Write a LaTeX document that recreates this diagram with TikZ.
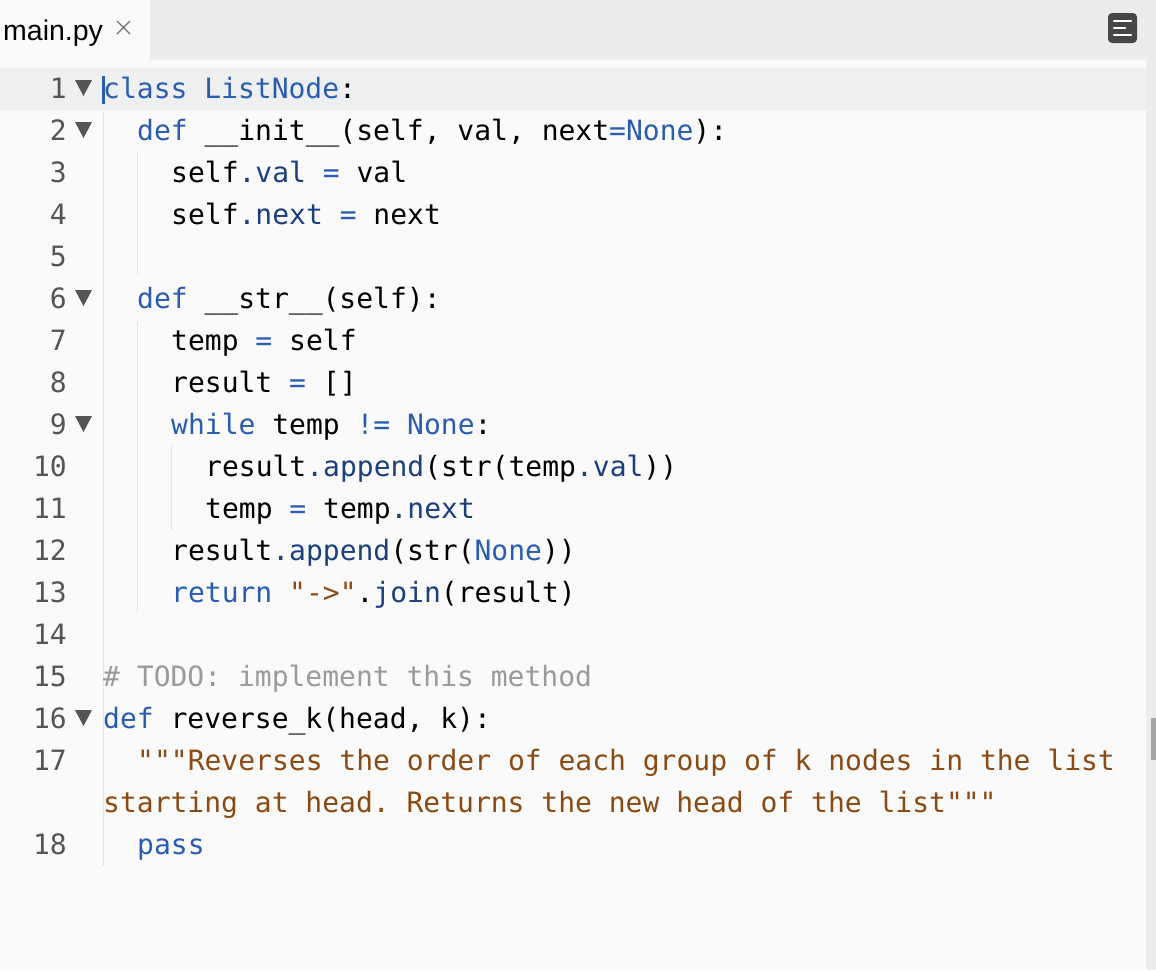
\documentclass[tikz,border=0pt]{standalone}
\usepackage{fontspec}
\setmonofont{DejaVu Sans Mono}
\newfontfamily\tabfont{Liberation Sans}
\definecolor{kw}{HTML}{2A5DB0}
\definecolor{at}{HTML}{1C3F7E}
\definecolor{st}{HTML}{8B4A12}
\definecolor{cm}{HTML}{9A9A9A}
\definecolor{bar}{HTML}{EBECEE}
\definecolor{page}{HTML}{FAFAFA}
\definecolor{hl}{HTML}{EEEFF1}
\definecolor{num}{HTML}{555555}
\newcommand\K[1]{\textcolor{kw}{#1}}
\newcommand\A[1]{\textcolor{at}{#1}}
\newcommand\St[1]{\textcolor{st}{#1}}
\newcommand\Cm[1]{\textcolor{cm}{#1}}
\tikzset{code/.style={anchor=base west,inner sep=0pt,font=\fontsize{28}{34}\selectfont\ttfamily},
lnum/.style={anchor=base east,inner sep=0pt,text=num,font=\fontsize{28}{34}\selectfont\ttfamily},
guide/.style={draw=black!18,densely dotted,line width=1pt},
fold/.style={fill=num,draw=none}}
\begin{document}
\begin{tikzpicture}[x=1pt,y=-1pt]
\useasboundingbox (0,0) rectangle (1156,970);
\fill[page] (0,0) rectangle (1156,970);
\fill[bar] (0,0) rectangle (1156,60);
\fill[page] (0,0) rectangle (150,60);
\fill[bar] (1146,60) rectangle (1156,970);
\fill[black!35] (1151,718) rectangle (1156,760);
\fill[hl] (0,68) rectangle (1146,110);
\node[anchor=base west,inner sep=0pt,font=\fontsize{28.5}{32}\selectfont\tabfont] (tab) at (3,40) {main.py};
\draw[black!55,line width=1.3pt] (117,21)--(130,34) (130,21)--(117,34);
\fill[rounded corners=4pt,fill=black!72] (1108,13) rectangle (1137,43);
\draw[white,line width=2.5pt,line cap=round] (1114,21)--(1131,21) (1114,28)--(1125,28) (1114,35)--(1131,35);
% indent guides
\draw[guide] (103,112)--(103,865);
\draw[guide] (137,153)--(137,275) (137,322)--(137,612);
\draw[guide] (171,446)--(171,530);
% cursor
\fill[kw] (102,76) rectangle (105,104);
% line numbers
\foreach \n [count=\i] in {1,...,16}{\node[lnum] (n\n) at (67,{98+42*(\n-1)}) {\n};}
\node[lnum] (n17) at (67,770) {17};
\node[lnum] (n18) at (67,854) {18};
\foreach \n in {1,2,6,9,16}{\fill[fold] (75,{80+42*(\n-1)}) -- (92,{80+42*(\n-1)}) -- (83.5,{96+42*(\n-1)}) -- cycle;}
% code
\node[code] (c1) at (103,98) {\K{class ListNode}:};
\node[code] (c2) at (137,140) {\K{def} \_\_init\_\_(self, val, next\K{=None}):};
\node[code] (c3) at (171,182) {self\A{.val} \K{=} val};
\node[code] (c4) at (171,224) {self\A{.next} \K{=} next};
\node[code] (c6) at (137,308) {\K{def} \_\_str\_\_(self):};
\node[code] (c7) at (171,350) {temp \K{=} self};
\node[code] (c8) at (171,392) {result \K{=} []};
\node[code] (c9) at (171,434) {\K{while} temp \K{!=} \K{None}:};
\node[code] (c10) at (205,476) {result\A{.append}(str(temp\A{.val}))};
\node[code] (c11) at (205,518) {temp \K{=} temp\A{.next}};
\node[code] (c12) at (171,560) {result\A{.append}(str(\K{None}))};
\node[code] (c13) at (171,602) {\K{return} \St{"->"}.\A{join}(result)};
\node[code] (c15) at (103,686) {\Cm{\# TODO: implement this method}};
\node[code] (c16) at (103,728) {\K{def} reverse\_k(head, k):};
\node[code] (c17) at (137,770) {\St{"""Reverses the order of each group of k nodes in the list}};
\node[code] (c17b) at (103,812) {\St{starting at head. Returns the new head of the list"""}};
\node[code] (c18) at (137,854) {\K{pass}};
\end{tikzpicture}
\end{document}
